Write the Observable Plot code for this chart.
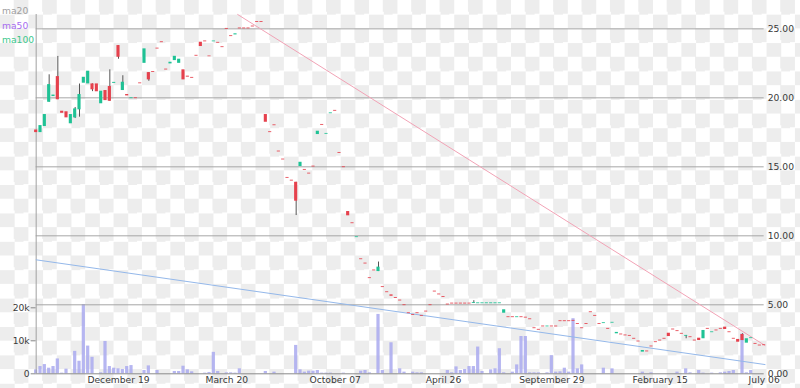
<!DOCTYPE html>
<html><head><meta charset="utf-8">
<script src="https://cdn.jsdelivr.net/npm/d3@7"></script>
<script src="https://cdn.jsdelivr.net/npm/@observablehq/plot@0.6"></script>
<style>
html,body{margin:0;padding:0;}
body{width:800px;height:388px;overflow:hidden;background:#fff repeating-conic-gradient(#ededed 0 25%, #ffffff 0 50%) 0 0/28.4px 28.4px;}
#wrap{position:relative;width:800px;height:388px;}
#wrap svg{position:absolute;left:0;top:0;overflow:visible;background:transparent !important;}
#legend{position:absolute;left:2px;top:4px;font:9.2px "DejaVu Sans";line-height:14.5px;}
</style></head><body>
<div id="wrap"></div>
<script>
// ---- data ----
const legendNames = ["ma20", "ma50", "ma100"];
const legendColors = ["#a0a0a0", "#a66cf0", "#3cc88c"];
const tickIdx = [19, 44, 69, 94, 119, 144, 168];
const tickLabels = ["December 19", "March 20", "October 07", "April 26", "September 29", "February 15", "July 06"];
const priceTicks = [0, 5, 10, 15, 20, 25];
const volumeTicks = [0, 10000, 20000];
const open = [
17.67,17.48,17.92,19.68,20.10,21.54,19.03,18.99,18.12,18.55,
19.13,21.06,21.01,21.01,21.01,19.57,20.53,20.82,21.05,23.79,
20.53,20.24,19.94,20.00,21.08,22.50,21.83,21.90,23.60,24.06,
22.08,22.46,22.70,22.50,22.03,21.57,21.48,23.08,24.03,24.12,
23.03,24.06,24.02,23.70,25.03,24.50,24.56,25.06,25.06,25.06,
25.20,25.53,25.53,18.79,17.54,18.04,16.14,15.56,14.23,14.03,
13.88,15.02,14.81,14.54,15.05,17.34,18.07,17.36,18.85,19.09,
16.04,15.00,11.76,10.94,9.87,8.33,8.02,6.96,7.52,7.41,
6.31,5.94,5.72,5.53,5.34,5.00,4.42,4.30,4.42,4.23,
4.54,5.00,5.99,5.78,5.60,5.05,5.12,5.12,5.12,5.12,
5.12,5.10,5.08,5.08,5.08,5.08,5.08,5.08,4.39,4.13,
4.13,4.07,4.13,4.10,3.98,3.33,3.22,3.46,3.40,3.46,
3.46,3.84,3.84,3.84,3.87,3.64,3.33,3.64,4.49,4.23,
3.64,3.64,3.29,3.67,2.90,2.88,2.81,2.78,2.57,2.37,
1.57,1.65,2.01,2.32,2.44,2.57,2.94,3.24,3.12,2.93,
2.72,2.68,2.44,2.58,2.54,3.29,2.98,3.17,3.29,3.38,
3.04,2.57,2.49,2.85,2.22,2.55,2.20,2.08,2.10];
const close = [
17.48,17.99,18.79,20.96,20.20,19.86,18.88,18.55,18.79,19.20,
20.24,21.49,21.93,20.58,20.44,20.48,19.80,19.75,21.12,22.94,
21.13,20.14,20.00,19.94,21.02,23.55,21.30,21.84,23.54,24.00,
22.02,22.58,23.01,22.80,21.30,21.50,21.42,23.02,23.72,24.06,
22.98,24.12,23.96,23.64,24.97,24.44,24.64,25.00,25.00,25.00,
25.14,25.47,25.47,18.23,17.48,17.98,16.08,15.50,14.17,13.97,
12.51,15.33,14.75,14.48,14.99,17.58,18.01,17.42,18.91,19.03,
15.98,14.94,11.45,10.88,9.93,8.27,7.96,6.90,7.46,7.73,
6.25,5.88,5.62,5.47,5.28,4.94,4.36,4.24,4.36,4.17,
4.48,4.94,5.93,5.72,5.54,4.99,5.06,5.06,5.06,5.06,
5.06,5.16,5.14,5.14,5.14,5.14,5.14,5.14,4.64,4.07,
4.07,4.13,4.07,4.04,3.92,3.27,3.16,3.40,3.46,3.40,
3.40,3.78,3.78,3.78,3.81,3.58,3.27,3.58,4.43,4.17,
3.58,3.70,3.23,3.73,3.00,2.82,2.75,2.72,2.51,2.31,
1.69,1.59,1.95,2.26,2.38,2.51,2.70,3.18,3.06,2.87,
2.78,2.62,2.38,2.41,3.14,3.23,3.04,3.11,3.23,3.21,
2.98,2.51,2.29,2.41,2.54,2.61,2.14,2.02,2.04];
// candles with a visible wick
const wickIdx  = [3, 5, 9, 10, 13, 17, 19, 20, 26, 60, 79, 101, 150, 163];
const wickHigh = [21.67, 23.0, 19.3, 21.0, 21.01, 22.03, 23.79, 21.6, 21.83, 13.88, 8.1, 5.3, 2.78, 2.9];
const wickLow  = [19.68, 19.86, 18.5, 18.6, 20.45, 19.75, 22.8, 20.53, 21.2, 11.47, 7.41, 5.1, 2.54, 2.41];
// volume, thousands
const volume = [
1.2,2.2,2.8,1.7,2.2,4.5,0.2,1.4,0,6.8,
3.8,21,8.4,5.0,0,0.3,9.8,2.2,1.7,1.5,
1.3,2.2,2.5,0,0,1.0,2.4,0,1.0,0,
0,0,0.7,0.7,2.3,1.2,0.6,0,0,0.2,
0.4,6.5,0.7,0,0.3,0.3,0.2,1.5,0,0,
0,0,0,0.7,0,0.5,0,0,0,0,
8.6,1.2,0.5,0.8,0.8,1.0,0.2,0.2,0.2,0,
0,0.2,0,0,0,0.8,1.0,0.3,0,18,
1.0,0,9.4,0,1.5,0.5,0,0.5,0.3,0.3,
0,0,0,0,0,1.0,0.3,2.1,1.0,1.3,
2.2,2.2,8.1,0.7,0,1.2,1.5,7.6,0.3,0,
0.5,2.7,11.3,11.3,0.3,0.3,0.3,0,0.3,5.5,
0.5,0.6,1.7,0.5,16.7,1.5,2.7,0,0,0,
0,1.7,0,1.5,0,0,0,0,0,0,
0.5,0,0.3,0,0,0,0,0,0.5,0,
1.5,0.3,0,1.0,0.2,0,0.2,0,0.3,0.5,
0.7,1.0,0,12,0.3,1.0,0,0,0];
// trend lines (candle index, price)
const pinkX = [46.5, 168.2], pinkY = [26.04, 2.05];
const blueX = [0, 168.2],   blueY = [8.26, 0.67];

// ---- build ----
const candles = open.map((o, i) => ({i, o, c: close[i], v: volume[i] * 1000}));
const wicks = wickIdx.map((i, k) => ({i, h: wickHigh[k], l: wickLow[k]}));
const pink = pinkX.map((x, k) => ({x, y: pinkY[k]}));
const blue = blueX.map((x, k) => ({x, y: blueY[k]}));
const UP = "#1fc295", DOWN = "#e6414d";
const common = {width: 800, height: 388, marginLeft: 35.67, marginRight: 36.33, marginBottom: 14.7,
  style: {background: "transparent", fontFamily: "DejaVu Sans", fontSize: "9.2px", color: "#3a3a3a", overflow: "visible"}};

const volPlot = Plot.plot({...common, marginTop: 307.3,
  x: {domain: [0, 168], axis: null},
  y: {domain: [0, 20000], label: null},
  marks: [
    Plot.rectY(candles, {x1: d => d.i - 0.37, x2: d => d.i + 0.37, y: "v", fill: "#a9a9ee", fillOpacity: 0.85}),
    Plot.axisY(volumeTicks, {anchor: "left", label: null, tickSize: 5, tickPadding: 1.5, stroke: "#888",
      tickFormat: d => d === 0 ? "0" : d / 1000 + "k"})
  ]});

const pricePlot = Plot.plot({...common, marginTop: 14,
  x: {domain: [0, 168], label: null},
  y: {domain: [0, 26.04], label: null},
  marks: [
    Plot.ruleY(priceTicks.filter(t => t > 0), {stroke: "#a6a6a6", strokeWidth: 1}),
    Plot.ruleY([0], {stroke: "#8a8a8a"}),
    Plot.ruleX([0], {stroke: "#a0a0a0"}),
    Plot.axisY(priceTicks, {anchor: "right", label: null, tickSize: 0, tickPadding: 3.5, tickFormat: d => d.toFixed(2)}),
    Plot.axisX(tickIdx, {anchor: "bottom", label: null, tickSize: 0, tickPadding: 3, tickFormat: d => tickLabels[tickIdx.indexOf(d)]}),
    Plot.line(pink, {x: "x", y: "y", stroke: "#f2a3b6", strokeWidth: 1}),
    Plot.line(blue, {x: "x", y: "y", stroke: "#94b8ea", strokeWidth: 1}),
    Plot.ruleX(wicks, {x: "i", y1: "l", y2: "h", stroke: "#555", strokeWidth: 1}),
    Plot.rect(candles, {x1: d => d.i - 0.36, x2: d => d.i + 0.36, y1: "o", y2: "c",
      fill: d => d.c >= d.o ? UP : DOWN})
  ]});

const wrap = document.getElementById("wrap");
wrap.appendChild(volPlot);
wrap.appendChild(pricePlot);
const legend = document.createElement("div");
legend.id = "legend";
legendNames.forEach((n, k) => {
  const s = document.createElement("div");
  s.textContent = n; s.style.color = legendColors[k];
  legend.appendChild(s);
});
wrap.appendChild(legend);
</script>
</body></html>
